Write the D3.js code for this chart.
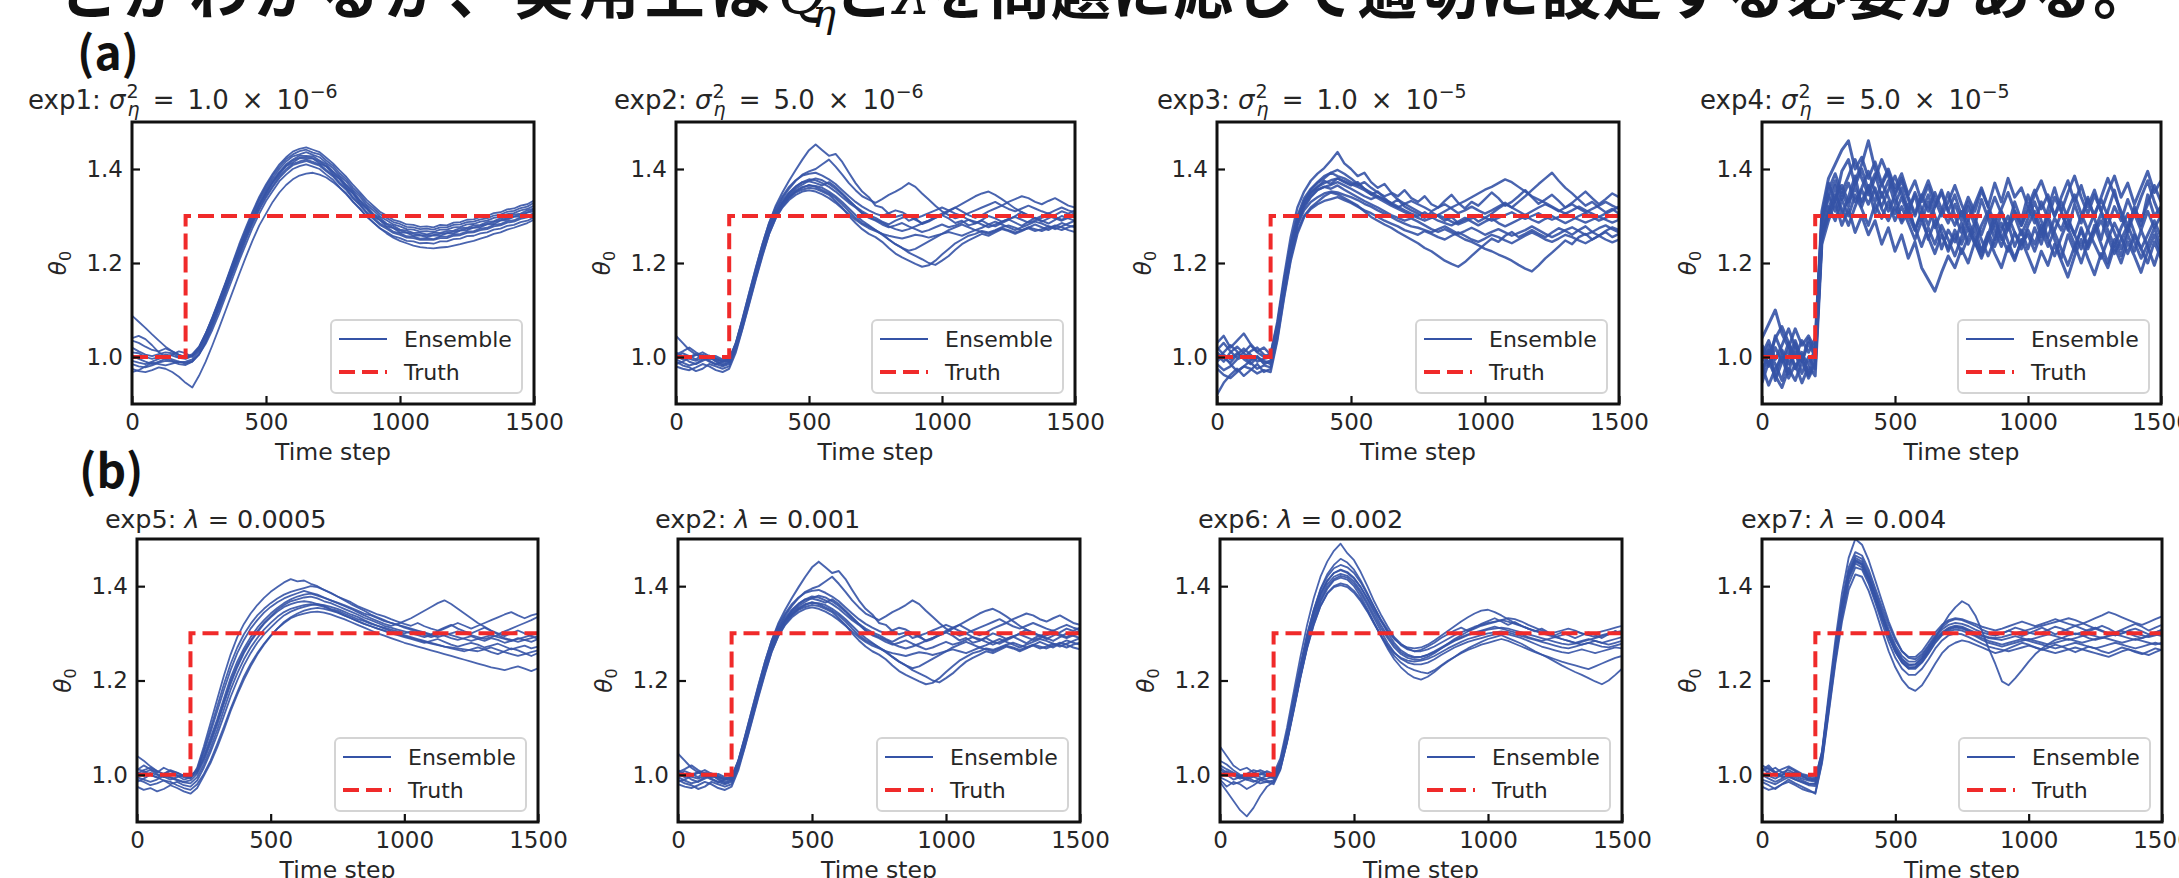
<!DOCTYPE html>
<html><head><meta charset="utf-8">
<script src="https://cdn.jsdelivr.net/npm/d3@7"></script>
<style>
html,body{margin:0;padding:0;background:#fff;overflow:hidden;}
svg{display:block;}
</style></head><body>
<svg id="chart" width="2179" height="878"></svg>
<script>
// ---------------- DATA ----------------
const timeSteps = [0,25,50,75,100,125,150,175,200,225,250,275,300,325,350,375,400,425,450,475,500,525,550,575,600,625,650,675,700,725,750,775,800,825,850,875,900,925,950,975,1000,1025,1050,1075,1100,1125,1150,1175,1200,1225,1250,1275,1300,1325,1350,1375,1400,1425,1450,1475,1500];
const truthT = [0, 200, 200, 1500];
const truthV = [1.0, 1.0, 1.3, 1.3];
const xTicks = [0, 500, 1000, 1500];
const yTicks = [1.0, 1.2, 1.4];
const xDomain = [0, 1500];
const yDomain = [0.9, 1.5];

const topNames = ["exp1", "exp2", "exp3", "exp4"];
const sigmaMantissa = ["1.0", "5.0", "1.0", "5.0"];
const sigmaExponent = ["6", "6", "5", "5"];
const bottomNames = ["exp5", "exp2", "exp6", "exp7"];
const lambdaValues = ["0.0005", "0.001", "0.002", "0.004"];
const legendLabels = ["Ensemble", "Truth"];

// ensemble members: θ0 × 1000 at timeSteps
const exp1Members = [
[1088,1075,1062,1048,1035,1022,1012,1005,1000,1003, 1020,1050,1085,1122,1160,1200,1240,1276,1310,1341, 1367,1390,1410,1425,1437,1443,1446,1441,1436,1424, 1412,1397,1383,1366,1351,1335,1322,1309,1301,1292, 1288,1282,1281,1277,1278,1276,1281,1280,1286,1287, 1292,1293,1298,1300,1306,1308,1314,1316,1322,1325, 1333],
[1035,1030,1022,1015,1012,1018,1012,1004,1000,1006, 1022,1050,1083,1118,1157,1195,1232,1268,1302,1333, 1358,1381,1400,1416,1427,1431,1436,1430,1425,1413, 1402,1386,1373,1355,1341,1324,1312,1299,1291,1282, 1278,1272,1271,1267,1268,1266,1271,1271,1276,1277, 1282,1283,1288,1290,1296,1298,1304,1306,1312,1315, 1322],
[1002,996,990,985,990,996,992,988,990,995, 1012,1040,1074,1110,1147,1186,1221,1259,1290,1323, 1347,1371,1389,1406,1414,1423,1422,1422,1412,1405, 1389,1378,1360,1347,1328,1316,1299,1291,1278,1274, 1265,1264,1258,1259,1255,1259,1258,1263,1263,1269, 1270,1275,1276,1282,1283,1290,1292,1298,1299,1307, 1310],
[985,980,978,982,988,992,990,985,983,990, 1005,1032,1065,1100,1138,1176,1212,1249,1283,1313, 1339,1361,1381,1396,1408,1413,1417,1412,1407,1395, 1384,1368,1355,1337,1323,1306,1294,1281,1273,1264, 1260,1254,1253,1249,1250,1249,1253,1253,1258,1259, 1264,1265,1270,1272,1278,1280,1286,1288,1294,1297, 1303],
[1010,1008,1000,996,1000,1005,1003,998,996,1002, 1018,1046,1079,1115,1152,1190,1227,1263,1297,1327, 1353,1376,1394,1410,1420,1428,1428,1427,1418,1410, 1395,1383,1366,1352,1334,1321,1305,1296,1284,1279, 1271,1269,1264,1264,1261,1264,1264,1268,1269,1274, 1275,1280,1281,1287,1289,1295,1297,1303,1305,1312, 1316],
[968,972,980,988,985,982,986,990,988,992, 1005,1028,1058,1092,1130,1167,1205,1240,1275,1305, 1332,1353,1374,1388,1400,1406,1410,1405,1400,1388, 1377,1361,1348,1330,1316,1299,1287,1274,1266,1257, 1253,1247,1246,1242,1243,1241,1246,1246,1251,1252, 1257,1258,1263,1265,1271,1273,1279,1281,1287,1290, 1297],
[1020,1012,1005,1002,1006,1010,1008,1000,997,1004, 1020,1049,1083,1120,1158,1197,1235,1271,1306,1337, 1363,1386,1405,1421,1431,1438,1441,1435,1431,1418, 1407,1391,1378,1360,1346,1329,1317,1304,1296,1287, 1283,1277,1276,1272,1273,1271,1276,1276,1281,1282, 1287,1288,1293,1295,1301,1303,1309,1311,1317,1320, 1328],
[992,988,985,990,996,1000,995,990,986,990, 1006,1034,1068,1104,1142,1180,1217,1253,1287,1317, 1343,1365,1385,1400,1411,1416,1420,1415,1410,1398, 1387,1371,1358,1340,1326,1309,1297,1284,1276,1267, 1263,1257,1256,1252,1253,1251,1256,1256,1261,1262, 1267,1268,1273,1275,1281,1283,1289,1291,1297,1300, 1306],
[975,970,968,972,978,975,968,958,945,935, 960,990,1025,1062,1100,1138,1176,1213,1248,1280, 1305,1330,1350,1366,1378,1386,1390,1392,1388,1382, 1372,1360,1346,1330,1315,1300,1286,1274,1263,1254, 1247,1242,1237,1234,1232,1231,1233,1234,1237,1240, 1244,1247,1252,1256,1262,1265,1271,1275,1280,1285, 1292],
[1040,1045,1038,1025,1010,1000,1005,1012,1008,1000, 1015,1043,1076,1112,1150,1187,1224,1260,1294,1324, 1350,1372,1392,1407,1418,1424,1426,1423,1416,1406, 1393,1379,1364,1348,1332,1317,1303,1292,1282,1275, 1269,1265,1262,1260,1259,1260,1262,1264,1267,1270, 1273,1276,1279,1283,1287,1291,1295,1299,1303,1308, 1314]
];

const exp2Members = [
[1000,1008,1002,995,1005,1000,992,985,990,1030, 1080,1135,1188,1240,1285,1322,1350,1375,1398,1420, 1440,1452,1440,1428,1432,1415,1392,1370,1352,1340, 1322,1318,1305,1298,1302,1290,1295,1283,1288,1296, 1302,1295,1285,1290,1280,1284,1292,1300,1295,1288, 1293,1286,1279,1288,1296,1290,1284,1292,1300,1295, 1290],
[985,990,998,1004,1010,1002,995,990,995,1028, 1078,1130,1182,1233,1280,1312,1338,1358,1375,1388, 1395,1400,1410,1420,1405,1388,1370,1355,1342,1335, 1328,1336,1345,1352,1360,1370,1362,1348,1335,1322, 1310,1302,1295,1300,1292,1285,1290,1282,1278,1285, 1292,1300,1308,1302,1295,1288,1295,1302,1310,1305, 1312],
[980,975,972,978,985,980,972,968,975,1010, 1060,1112,1165,1215,1262,1296,1320,1338,1350,1356, 1360,1358,1352,1345,1332,1318,1300,1285,1272,1262, 1255,1245,1232,1220,1212,1205,1198,1192,1195,1205, 1218,1230,1242,1250,1258,1262,1268,1265,1270,1276, 1280,1275,1270,1274,1268,1272,1278,1275,1270,1276, 1280],
[1010,1000,990,985,992,998,1002,995,990,1020, 1070,1122,1175,1225,1270,1302,1325,1340,1352,1360, 1366,1362,1355,1348,1338,1325,1310,1296,1285,1278, 1270,1262,1250,1240,1232,1222,1215,1208,1200,1196, 1205,1215,1228,1240,1248,1255,1262,1258,1265,1272, 1268,1262,1268,1275,1282,1276,1270,1278,1285,1280, 1276],
[995,988,982,986,995,1000,990,982,988,1022, 1072,1125,1178,1228,1272,1305,1328,1345,1358,1367, 1375,1380,1376,1368,1358,1346,1332,1320,1310,1302, 1296,1288,1282,1290,1296,1300,1292,1285,1290,1298, 1305,1312,1318,1310,1302,1296,1302,1310,1316,1322, 1330,1336,1342,1338,1330,1325,1332,1338,1330,1322, 1318],
[1005,1012,1020,1010,1002,992,985,980,985,1018, 1068,1120,1172,1222,1268,1303,1328,1348,1362,1372, 1378,1376,1370,1362,1352,1340,1328,1318,1306,1298, 1292,1286,1278,1272,1268,1272,1278,1284,1290,1296, 1302,1310,1318,1326,1334,1342,1348,1352,1345,1336, 1326,1316,1308,1300,1294,1300,1306,1298,1292,1300, 1306],
[990,982,978,970,975,985,980,975,980,1015, 1062,1115,1168,1218,1262,1295,1318,1334,1345,1352, 1355,1352,1346,1338,1328,1316,1304,1292,1282,1274, 1268,1262,1258,1255,1252,1256,1260,1258,1254,1258, 1262,1266,1262,1258,1264,1270,1266,1262,1268,1274, 1270,1265,1270,1276,1272,1268,1274,1280,1276,1270, 1266],
[998,1002,996,992,998,990,984,990,995,1026, 1076,1129,1181,1231,1277,1310,1333,1350,1363,1372, 1374,1370,1365,1372,1362,1348,1334,1320,1306,1296, 1290,1282,1276,1280,1285,1278,1272,1266,1270,1276, 1282,1276,1280,1286,1292,1288,1282,1276,1282,1288, 1294,1298,1292,1286,1290,1296,1300,1295,1290,1296, 1300],
[1002,995,1000,1006,1000,995,998,992,996,1030, 1082,1136,1190,1240,1285,1318,1342,1362,1376,1386, 1390,1392,1386,1378,1368,1355,1342,1330,1320,1312, 1305,1300,1306,1312,1308,1300,1295,1300,1306,1312, 1318,1312,1305,1300,1306,1312,1318,1324,1330,1322, 1315,1310,1316,1322,1316,1310,1305,1312,1318,1312, 1308],
[1045,1030,1015,1005,998,1003,996,990,993,1024, 1073,1126,1178,1228,1272,1304,1326,1342,1354,1362, 1365,1364,1360,1352,1342,1330,1316,1302,1290,1280, 1270,1260,1250,1240,1232,1226,1230,1238,1246,1254, 1262,1270,1276,1282,1276,1270,1275,1282,1288,1282, 1276,1270,1276,1282,1288,1284,1278,1272,1278,1284, 1290]
];

const exp3Members = [
[1030,1045,1020,1035,1050,1028,1012,1020,1005,1075, 1170,1255,1318,1352,1375,1390,1402,1418,1436,1412, 1400,1385,1392,1372,1360,1368,1350,1342,1355,1338, 1330,1342,1325,1318,1332,1345,1328,1316,1330,1322, 1336,1350,1338,1322,1330,1342,1355,1340,1326,1335, 1345,1332,1318,1328,1340,1352,1338,1325,1336,1348, 1340],
[920,945,962,975,960,972,985,968,975,1040, 1130,1210,1268,1300,1318,1330,1342,1350,1346,1338, 1330,1322,1310,1298,1290,1282,1275,1266,1258,1250, 1242,1232,1225,1215,1205,1198,1192,1202,1215,1228, 1240,1252,1245,1258,1266,1255,1262,1270,1262,1255, 1265,1274,1268,1260,1270,1278,1266,1258,1268,1276, 1270],
[1005,990,1010,1022,1008,995,1002,985,990,1055, 1145,1228,1288,1326,1348,1362,1375,1368,1380,1372, 1365,1372,1358,1346,1352,1338,1326,1335,1320,1312, 1305,1296,1308,1300,1290,1298,1285,1292,1300,1288, 1296,1305,1316,1325,1318,1330,1342,1355,1368,1380, 1392,1375,1360,1348,1335,1322,1330,1318,1308,1315, 1305],
[985,972,980,995,1002,988,975,982,978,1045, 1138,1220,1282,1318,1340,1355,1362,1358,1365,1356, 1348,1340,1332,1325,1318,1310,1302,1296,1290,1295, 1288,1280,1272,1266,1272,1265,1258,1250,1245,1238, 1230,1225,1218,1212,1205,1196,1188,1182,1195,1210, 1222,1235,1248,1240,1255,1262,1250,1258,1266,1255, 1262],
[1015,1030,1012,998,1010,1025,1010,1000,1008,1068, 1160,1240,1300,1338,1358,1372,1385,1392,1385,1380, 1372,1365,1372,1360,1350,1342,1348,1335,1326,1332, 1325,1318,1310,1318,1325,1316,1306,1312,1320,1312, 1305,1312,1320,1328,1318,1310,1302,1310,1318,1325, 1318,1310,1318,1325,1316,1308,1315,1322,1330,1322, 1315],
[990,1002,985,970,980,992,1000,992,985,1050, 1140,1222,1280,1312,1330,1340,1348,1352,1350,1345, 1340,1334,1326,1320,1312,1305,1298,1290,1284,1278, 1275,1270,1265,1272,1278,1270,1262,1268,1275,1268, 1260,1266,1272,1265,1258,1264,1270,1278,1270,1262, 1255,1262,1270,1276,1268,1260,1266,1274,1280,1272, 1265],
[1010,998,988,1005,1018,1005,990,996,1000,1062, 1155,1235,1294,1332,1355,1370,1380,1392,1398,1390, 1380,1368,1358,1350,1342,1335,1328,1320,1312,1305, 1300,1308,1298,1290,1285,1280,1288,1296,1288,1280, 1288,1295,1285,1278,1285,1292,1300,1292,1286,1294, 1300,1292,1285,1292,1300,1306,1298,1290,1296,1302, 1296],
[995,1010,1025,1012,995,985,998,988,992,1058, 1148,1228,1288,1322,1342,1356,1362,1366,1372,1365, 1358,1350,1342,1336,1342,1334,1325,1318,1326,1318, 1310,1302,1296,1302,1310,1318,1325,1332,1340,1348, 1356,1362,1370,1378,1372,1362,1352,1342,1335,1328, 1320,1312,1305,1312,1320,1312,1305,1298,1305,1312, 1320],
[975,962,955,968,980,975,965,972,968,1035, 1125,1205,1262,1298,1315,1325,1332,1336,1340,1334, 1328,1320,1312,1306,1298,1290,1284,1278,1270,1265, 1260,1268,1262,1255,1250,1258,1265,1258,1250,1245, 1252,1260,1255,1248,1242,1250,1258,1265,1258,1250, 1245,1252,1260,1255,1248,1242,1250,1258,1250,1244, 1250],
[1020,1005,995,1008,998,1012,1020,1005,998,1065, 1158,1238,1296,1330,1350,1362,1370,1376,1380,1374, 1368,1362,1355,1346,1338,1330,1322,1315,1308,1302, 1296,1290,1296,1302,1296,1288,1282,1288,1295,1302, 1296,1290,1296,1302,1308,1300,1294,1300,1306,1298, 1292,1298,1305,1298,1292,1286,1292,1298,1292,1286, 1292]
];

const exp4Members = [
[1020,980,1045,1010,965,1030,990,1040,1005,1300, 1370,1330,1395,1420,1365,1400,1355,1390,1340,1375, 1325,1360,1310,1345,1290,1330,1275,1310,1350,1300, 1265,1320,1280,1335,1295,1250,1310,1275,1330,1290, 1345,1300,1255,1315,1360,1310,1270,1325,1285,1340, 1295,1250,1310,1355,1300,1265,1320,1280,1345,1300, 1320],
[960,1015,950,990,1030,975,1010,960,990,1250, 1310,1365,1300,1340,1385,1320,1360,1305,1350,1310, 1345,1290,1325,1270,1305,1250,1290,1230,1270,1245, 1285,1240,1275,1225,1260,1300,1250,1285,1235,1270, 1230,1275,1240,1290,1250,1210,1260,1225,1275,1235, 1280,1240,1200,1250,1215,1260,1225,1270,1235,1195, 1240],
[1040,1070,1100,1050,1020,1060,1025,1045,1015,1310, 1380,1410,1440,1460,1400,1425,1380,1415,1370,1400, 1360,1390,1345,1375,1330,1365,1320,1355,1310,1345, 1300,1340,1310,1355,1320,1370,1330,1380,1340,1360, 1320,1355,1315,1345,1300,1340,1375,1330,1365,1320, 1355,1310,1350,1385,1340,1370,1325,1360,1395,1350, 1375],
[980,940,975,1000,955,985,945,980,960,1240, 1290,1330,1280,1315,1265,1300,1260,1290,1240,1275, 1225,1260,1210,1245,1190,1165,1140,1180,1215,1190, 1230,1200,1245,1215,1255,1220,1190,1235,1205,1250, 1215,1180,1225,1195,1240,1205,1170,1215,1250,1210, 1175,1220,1190,1235,1200,1245,1215,1180,1225,1260, 1220],
[1005,1035,995,1025,1060,1020,990,1030,1000,1290, 1345,1310,1350,1320,1375,1410,1460,1400,1365,1395, 1350,1380,1340,1305,1345,1310,1350,1315,1285,1325, 1290,1330,1295,1260,1300,1340,1305,1270,1310,1280, 1320,1285,1330,1295,1340,1310,1350,1385,1340,1305, 1345,1310,1280,1320,1290,1335,1300,1340,1375,1330, 1295],
[945,990,960,935,975,950,990,955,985,1260, 1320,1290,1335,1300,1345,1315,1280,1325,1295,1330, 1290,1320,1285,1250,1290,1255,1220,1260,1230,1270, 1240,1275,1245,1210,1250,1285,1255,1225,1265,1230, 1270,1240,1280,1250,1215,1255,1290,1260,1230,1270, 1240,1210,1250,1285,1255,1220,1260,1230,1200,1245, 1210],
[1025,1000,1040,1065,1030,1000,1035,1010,1040,1285, 1355,1390,1350,1385,1420,1380,1345,1380,1420,1385, 1345,1375,1335,1300,1340,1375,1335,1300,1330,1365, 1325,1290,1325,1360,1320,1285,1315,1350,1310,1280, 1310,1345,1375,1335,1300,1330,1295,1260,1300,1335, 1300,1340,1380,1345,1310,1280,1315,1290,1325,1365, 1330],
[970,1010,985,950,1000,1035,995,965,1010,1265, 1305,1345,1315,1280,1320,1355,1325,1360,1315,1290, 1320,1285,1310,1275,1235,1275,1240,1280,1250,1215, 1255,1290,1255,1225,1265,1235,1270,1300,1265,1240, 1280,1310,1270,1235,1270,1305,1275,1240,1200,1245, 1270,1305,1270,1235,1275,1305,1265,1230,1260,1290, 1255],
[1010,985,1020,990,1015,975,1005,985,1015,1275, 1340,1375,1335,1370,1330,1360,1395,1350,1320,1355, 1385,1345,1310,1350,1315,1280,1320,1350,1310,1280, 1310,1275,1240,1280,1310,1270,1235,1275,1300,1260, 1295,1330,1290,1255,1295,1270,1310,1345,1305,1270, 1305,1335,1300,1265,1230,1270,1305,1270,1310,1275, 1300],
[990,1025,955,1015,985,1010,965,1000,975,1255, 1300,1335,1365,1330,1360,1330,1365,1330,1370,1340, 1305,1340,1300,1270,1310,1345,1300,1265,1225,1260, 1220,1255,1285,1250,1215,1250,1285,1245,1210,1245, 1260,1225,1265,1300,1265,1230,1195,1235,1270,1230, 1265,1290,1255,1220,1250,1280,1245,1210,1240,1275, 1235]
];

const exp5Members = [
[1010,1020,1012,1005,1015,1008,1000,995,992,1015, 1060,1110,1160,1210,1255,1292,1320,1342,1360,1375, 1388,1398,1408,1415,1410,1412,1405,1400,1392,1385, 1378,1372,1366,1358,1352,1346,1340,1336,1330,1325, 1320,1316,1322,1315,1310,1306,1312,1318,1310,1304, 1300,1306,1312,1305,1298,1304,1310,1316,1322,1328, 1335],
[990,985,978,982,988,985,978,972,968,980, 1002,1030,1065,1102,1140,1175,1208,1235,1258,1278, 1295,1310,1322,1332,1338,1342,1345,1346,1344,1340, 1335,1330,1324,1318,1312,1306,1300,1295,1290,1285, 1280,1276,1272,1268,1264,1260,1256,1252,1248,1244, 1240,1236,1232,1228,1225,1222,1226,1230,1225,1220, 1226],
[1005,998,1004,1000,995,1002,998,990,994,1005, 1035,1072,1112,1155,1198,1232,1262,1285,1305,1322, 1336,1350,1360,1368,1372,1376,1378,1374,1368,1364, 1358,1352,1346,1340,1333,1328,1322,1316,1312,1308, 1304,1300,1296,1292,1296,1300,1295,1290,1286,1290, 1294,1288,1284,1290,1286,1280,1284,1290,1286,1282, 1288],
[998,1005,1010,1002,996,990,995,1000,996,1010, 1048,1090,1135,1180,1222,1258,1286,1310,1328,1344, 1356,1366,1374,1380,1385,1390,1386,1382,1376,1370, 1364,1358,1352,1345,1338,1332,1326,1320,1316,1320, 1326,1332,1340,1348,1356,1364,1370,1362,1352,1342, 1332,1322,1314,1306,1300,1294,1300,1306,1300,1294, 1288],
[985,992,1000,995,988,980,985,978,975,988, 1015,1048,1085,1125,1165,1200,1232,1258,1280,1298, 1312,1326,1338,1346,1352,1356,1360,1362,1360,1356, 1352,1346,1340,1335,1328,1322,1316,1310,1305,1300, 1296,1292,1288,1284,1280,1276,1272,1268,1265,1262, 1266,1270,1266,1260,1256,1262,1268,1264,1258,1252, 1258],
[1040,1030,1018,1008,1002,1010,1005,998,1000,1008, 1040,1078,1118,1162,1205,1240,1268,1292,1312,1328, 1342,1354,1364,1372,1378,1382,1384,1380,1375,1370, 1365,1360,1354,1348,1342,1338,1332,1326,1322,1318, 1314,1310,1306,1302,1298,1304,1310,1316,1322,1316, 1310,1316,1322,1328,1334,1340,1345,1338,1332,1338, 1342],
[975,968,972,965,970,978,972,965,960,972, 998,1025,1058,1095,1135,1170,1202,1230,1255,1276, 1294,1310,1324,1334,1342,1348,1352,1354,1352,1348, 1344,1338,1332,1326,1320,1315,1310,1306,1302,1298, 1294,1290,1286,1282,1278,1275,1272,1270,1268,1266, 1264,1262,1266,1270,1265,1260,1256,1252,1256,1260, 1264],
[1012,1008,1000,994,1002,1008,1004,998,994,1012, 1052,1098,1145,1192,1235,1270,1298,1320,1338,1352, 1364,1374,1382,1388,1392,1396,1400,1398,1392,1386, 1378,1370,1362,1355,1348,1340,1334,1328,1322,1318, 1312,1308,1304,1300,1296,1292,1296,1300,1304,1300, 1296,1292,1288,1292,1296,1290,1286,1282,1286,1290, 1294],
[995,990,985,990,998,994,988,984,982,995, 1022,1056,1095,1138,1180,1215,1245,1270,1290,1308, 1322,1335,1345,1352,1356,1360,1362,1360,1356,1350, 1345,1338,1332,1326,1320,1315,1310,1305,1300,1296, 1292,1288,1284,1280,1284,1288,1282,1276,1272,1276, 1280,1276,1270,1274,1278,1272,1266,1270,1274,1268, 1272],
[1002,1010,1015,1008,1000,995,990,985,988,1002, 1030,1066,1106,1150,1192,1228,1258,1282,1302,1320, 1334,1346,1356,1362,1366,1368,1366,1362,1358,1352, 1348,1342,1336,1330,1326,1320,1316,1312,1308,1304, 1300,1304,1300,1296,1292,1296,1300,1296,1292,1288, 1284,1288,1292,1296,1292,1288,1284,1288,1292,1296, 1300]
];

const exp6Members = [
[1060,1040,1020,1010,1015,1005,1000,1008,1002,1035, 1100,1175,1250,1318,1375,1420,1452,1475,1490,1470, 1455,1430,1400,1368,1340,1315,1292,1278,1268,1262, 1265,1272,1280,1290,1298,1306,1312,1305,1312,1320, 1326,1332,1325,1318,1324,1316,1310,1304,1310,1302, 1296,1302,1296,1290,1296,1302,1296,1290,1298,1305, 1300],
[985,965,945,925,912,930,955,975,985,1012, 1068,1135,1205,1268,1318,1358,1385,1400,1406,1402, 1390,1372,1348,1322,1296,1272,1252,1238,1228,1222, 1218,1215,1222,1232,1242,1250,1258,1265,1270,1276, 1280,1284,1288,1284,1278,1272,1266,1260,1255,1250, 1245,1240,1236,1232,1228,1224,1230,1236,1242,1248, 1252],
[1005,998,1002,995,990,996,1002,998,992,1022, 1082,1152,1222,1288,1340,1382,1410,1428,1435,1430, 1418,1398,1372,1345,1318,1295,1275,1260,1252,1248, 1250,1255,1262,1270,1278,1285,1292,1298,1302,1306, 1310,1314,1310,1306,1302,1298,1292,1288,1284,1288, 1292,1288,1284,1280,1284,1288,1284,1280,1284,1288, 1292],
[990,975,985,980,970,978,988,985,980,1010, 1070,1138,1208,1272,1325,1366,1394,1412,1418,1414, 1400,1378,1352,1322,1294,1268,1245,1228,1215,1206, 1202,1208,1218,1230,1240,1250,1260,1268,1275,1282, 1288,1292,1296,1290,1284,1278,1270,1262,1255,1248, 1240,1232,1225,1218,1212,1205,1198,1192,1200,1212, 1225],
[1020,1012,1005,998,1002,1010,1006,1000,996,1025, 1088,1158,1228,1292,1345,1385,1412,1428,1434,1428, 1416,1398,1375,1350,1326,1305,1288,1276,1270,1268, 1270,1276,1285,1295,1305,1315,1325,1334,1342,1348, 1350,1345,1338,1330,1322,1316,1310,1306,1302,1298, 1302,1306,1310,1306,1300,1296,1300,1304,1308,1312, 1316],
[995,988,980,985,992,1000,995,988,984,1015, 1072,1142,1212,1276,1328,1370,1398,1415,1422,1418, 1405,1385,1360,1332,1305,1280,1260,1246,1238,1234, 1234,1238,1245,1254,1262,1270,1276,1282,1286,1290, 1294,1298,1300,1298,1294,1290,1284,1278,1272,1268, 1264,1260,1258,1262,1266,1262,1258,1262,1266,1270, 1268],
[1015,1005,998,992,996,1004,1010,1004,998,1028, 1090,1162,1232,1298,1350,1392,1420,1438,1445,1440, 1428,1408,1382,1356,1330,1308,1290,1275,1266,1262, 1262,1266,1272,1280,1288,1296,1302,1308,1314,1318, 1322,1325,1328,1325,1320,1315,1310,1305,1300,1296, 1292,1296,1300,1304,1300,1296,1292,1296,1300,1304, 1300],
[1000,1008,1002,996,990,985,992,998,994,1020, 1078,1148,1218,1282,1335,1376,1404,1420,1426,1422, 1410,1390,1365,1338,1312,1290,1270,1256,1248,1244, 1245,1250,1258,1268,1278,1288,1296,1304,1310,1316, 1320,1324,1328,1332,1330,1325,1318,1312,1306,1300, 1294,1288,1284,1280,1276,1280,1284,1280,1276,1280, 1284],
[1030,1022,1010,1000,995,988,982,985,988,1016, 1072,1140,1208,1270,1320,1358,1384,1398,1402,1398, 1386,1368,1346,1320,1296,1275,1258,1248,1242,1240, 1242,1246,1252,1260,1268,1275,1282,1288,1292,1296, 1300,1302,1304,1302,1298,1294,1290,1286,1282,1278, 1274,1270,1268,1272,1276,1280,1276,1272,1270,1274, 1278],
[1012,1000,990,995,1000,996,990,992,996,1024, 1086,1158,1230,1296,1350,1394,1425,1445,1458,1450, 1435,1412,1385,1356,1328,1302,1280,1264,1255,1250, 1250,1254,1260,1268,1276,1284,1290,1296,1300,1304, 1308,1310,1312,1310,1306,1302,1298,1294,1290,1286, 1282,1278,1276,1278,1282,1286,1290,1294,1298,1302, 1305]
];

const exp7Members = [
[1010,1020,1005,998,1015,1008,1000,995,990,1050, 1170,1285,1385,1460,1500,1488,1455,1412,1368,1325, 1290,1262,1248,1245,1256,1275,1296,1312,1325,1330, 1328,1322,1316,1308,1302,1296,1300,1306,1300,1294, 1300,1306,1312,1305,1298,1304,1310,1316,1310,1304, 1310,1316,1310,1302,1308,1314,1320,1314,1306,1312, 1318],
[985,978,970,980,990,982,975,968,960,1025, 1130,1235,1325,1392,1425,1420,1390,1350,1305,1262, 1228,1202,1185,1178,1190,1212,1236,1258,1272,1280, 1285,1282,1276,1270,1264,1258,1262,1268,1274,1280, 1276,1270,1265,1270,1276,1272,1266,1260,1266,1272, 1268,1262,1258,1264,1270,1266,1260,1256,1262,1268, 1264],
[1002,998,992,1000,1005,998,992,988,986,1040, 1152,1262,1358,1428,1460,1452,1422,1382,1342,1302, 1270,1246,1234,1234,1246,1266,1286,1300,1310,1314, 1312,1306,1300,1294,1290,1288,1286,1290,1294,1290, 1286,1290,1294,1298,1294,1290,1286,1290,1294,1298, 1294,1290,1294,1298,1294,1290,1286,1290,1294,1298, 1294],
[995,1008,1015,1005,998,990,985,980,982,1035, 1142,1250,1345,1415,1448,1440,1410,1370,1330,1292, 1260,1238,1226,1228,1242,1264,1290,1315,1338,1355, 1368,1360,1338,1305,1268,1235,1198,1190,1205,1222, 1240,1256,1268,1278,1286,1290,1296,1300,1296,1290, 1286,1290,1296,1300,1305,1300,1294,1290,1296,1302, 1306],
[1020,1012,1005,1012,1018,1010,1002,998,994,1048, 1160,1272,1368,1440,1472,1465,1435,1395,1356,1318, 1285,1262,1250,1250,1262,1282,1302,1318,1328,1332, 1330,1325,1320,1314,1310,1306,1310,1315,1320,1325, 1320,1315,1320,1325,1330,1325,1320,1316,1320,1326, 1332,1338,1345,1340,1334,1328,1322,1318,1324,1330, 1336],
[975,968,972,980,985,978,970,965,962,1028, 1135,1242,1335,1405,1440,1435,1405,1365,1322,1282, 1248,1225,1212,1212,1225,1245,1268,1285,1296,1300, 1298,1292,1285,1278,1272,1268,1265,1262,1266,1270, 1274,1270,1266,1262,1258,1262,1266,1270,1266,1262, 1258,1254,1250,1256,1262,1266,1262,1258,1254,1260, 1266],
[1008,1015,1002,995,1000,1006,998,990,988,1045, 1158,1268,1362,1432,1465,1458,1428,1388,1348,1308, 1275,1252,1240,1240,1252,1272,1292,1308,1318,1322, 1320,1315,1308,1302,1298,1295,1300,1306,1312,1308, 1302,1298,1302,1308,1314,1310,1304,1298,1302,1308, 1312,1306,1300,1296,1300,1306,1310,1304,1298,1302, 1308],
[990,985,980,988,995,990,984,978,976,1036, 1145,1255,1350,1420,1452,1445,1415,1375,1335,1295, 1262,1238,1225,1225,1238,1258,1280,1296,1305,1308, 1306,1300,1294,1286,1280,1276,1272,1276,1280,1284, 1288,1284,1280,1276,1280,1284,1288,1284,1280,1284, 1288,1292,1288,1284,1280,1284,1288,1284,1280,1276, 1280],
[1012,1005,998,1005,1010,1002,996,992,990,1042, 1152,1262,1356,1425,1456,1448,1418,1378,1338,1298, 1266,1244,1232,1234,1248,1268,1288,1302,1312,1316, 1314,1308,1302,1296,1292,1290,1292,1296,1300,1304, 1308,1312,1316,1320,1324,1328,1332,1328,1322,1316, 1310,1304,1300,1296,1300,1304,1300,1296,1292,1296, 1300],
[1000,992,985,992,1000,994,988,982,980,1038, 1148,1258,1352,1422,1454,1446,1416,1376,1336,1296, 1264,1240,1228,1228,1240,1260,1282,1298,1308,1312, 1310,1304,1296,1290,1284,1280,1276,1280,1284,1288, 1284,1280,1276,1272,1268,1272,1276,1280,1276,1272, 1268,1272,1276,1280,1276,1272,1268,1272,1276,1280, 1276]
];

const topData = [exp1Members, exp2Members, exp3Members, exp4Members];
const bottomData = [exp5Members, exp2Members, exp6Members, exp7Members];

// ---------------- LAYOUT / STYLE ----------------
const topFrames = [[132,534],[676,1075],[1217,1619],[1762,2161]];
const bottomFrames = [[137,538],[678,1080],[1220,1622],[1762,2162]];
const rowY = [[122,404],[539,822]];
const topTitleX = [28, 614, 1157, 1700];
const bottomTitleX = [105, 655, 1198, 1741];
const titleBaseline = [109, 528];
const topLineWidth = [1.8, 2.0, 2.4, 3.0];
const bottomLineWidth = [1.8, 2.0, 1.8, 1.9];

const FONT = "'DejaVu Sans', 'Bitstream Vera Sans', sans-serif";
const TXT = "#262626";
const BLUE = "#3553a6";
const RED = "#f02a2a";
const EN = "\u2002";

const svg = d3.select("#chart");
svg.append("rect").attr("width", 2179).attr("height", 878).attr("fill", "#fff");
let clipN = 0;

function drawPanel(fx, fy, members, lineW) {
  const [x0, x1] = fx, [y0, y1] = fy;
  const x = d3.scaleLinear().domain(xDomain).range([x0, x1]);
  const y = d3.scaleLinear().domain(yDomain).range([y1, y0]);
  const id = "clip" + (clipN++);
  svg.append("clipPath").attr("id", id).append("rect")
    .attr("x", x0).attr("y", y0).attr("width", x1 - x0).attr("height", y1 - y0);
  const g = svg.append("g");
  const plot = g.append("g").attr("clip-path", `url(#${id})`);
  const line = d3.line().x((d, i) => x(timeSteps[i])).y(d => y(d / 1000));
  plot.selectAll("path.ens").data(members).join("path")
    .attr("class", "ens").attr("d", line)
    .attr("fill", "none").attr("stroke", BLUE).attr("stroke-width", lineW)
    .attr("stroke-linejoin", "round").attr("opacity", 0.9);
  const tline = d3.line().x(d => x(d[0])).y(d => y(d[1]));
  plot.append("path").datum(d3.zip(truthT, truthV)).attr("d", tline)
    .attr("fill", "none").attr("stroke", RED).attr("stroke-width", 4)
    .attr("stroke-dasharray", "16,7");

  // axes (inward ticks)
  const ax = g.append("g").attr("transform", `translate(0,${y1})`)
    .call(d3.axisBottom(x).tickValues(xTicks).tickFormat(d3.format("d")).tickSizeInner(-8).tickSizeOuter(0).tickPadding(10));
  const ay = g.append("g").attr("transform", `translate(${x0},0)`)
    .call(d3.axisLeft(y).tickValues(yTicks).tickFormat(d3.format(".1f")).tickSizeInner(-8).tickSizeOuter(0).tickPadding(9));
  [ax, ay].forEach(a => {
    a.select(".domain").remove();
    a.selectAll("line").attr("stroke", "#111").attr("stroke-width", 2.2);
    a.selectAll("text").attr("font-family", FONT).attr("font-size", 23).attr("fill", TXT);
  });

  // frame
  g.append("rect").attr("x", x0).attr("y", y0).attr("width", x1 - x0).attr("height", y1 - y0)
    .attr("fill", "none").attr("stroke", "#111").attr("stroke-width", 3);

  // axis labels
  g.append("text").attr("x", (x0 + x1) / 2).attr("y", y1 + 56)
    .attr("text-anchor", "middle").attr("font-family", FONT).attr("font-size", 23.5).attr("fill", TXT)
    .text("Time step");
  const yl = g.append("text").attr("transform", `translate(${x0 - 66},${(y0 + y1) / 2}) rotate(-90)`)
    .attr("text-anchor", "middle").attr("font-family", FONT).attr("font-size", 23).attr("fill", TXT);
  yl.append("tspan").attr("font-style", "italic").text("θ");
  yl.append("tspan").attr("font-size", 16).attr("dy", 5).text("0");

  // legend
  const lw = 191, lh = 73;
  const lx = x1 - 12 - lw, ly = y1 - 11 - lh;
  const lg = g.append("g");
  lg.append("rect").attr("x", lx).attr("y", ly).attr("width", lw).attr("height", lh).attr("rx", 5)
    .attr("fill", "#fff").attr("fill-opacity", 0.85).attr("stroke", "#d4d4d4").attr("stroke-width", 2);
  lg.append("line").attr("x1", lx + 8).attr("x2", lx + 56).attr("y1", ly + 19).attr("y2", ly + 19)
    .attr("stroke", BLUE).attr("stroke-width", 2);
  lg.append("line").attr("x1", lx + 8).attr("x2", lx + 56).attr("y1", ly + 52).attr("y2", ly + 52)
    .attr("stroke", RED).attr("stroke-width", 4).attr("stroke-dasharray", "16,7");
  legendLabels.forEach((lab, k) => {
    lg.append("text").attr("x", lx + 73).attr("y", ly + (k === 0 ? 19 : 52) + 8)
      .attr("font-family", FONT).attr("font-size", 22).attr("fill", TXT).text(lab);
  });
  return g;
}

// top row
topFrames.forEach((fx, c) => {
  drawPanel(fx, rowY[0], topData[c], topLineWidth[c]);
  const t = svg.append("text").attr("x", topTitleX[c]).attr("y", titleBaseline[0])
    .attr("font-family", FONT).attr("font-size", 26).attr("fill", TXT);
  t.append("tspan").text(topNames[c] + ": ");
  t.append("tspan").attr("font-style", "italic").text("σ");
  t.append("tspan").attr("font-size", 19).attr("dx", 1).attr("dy", -11).text("2");
  t.append("tspan").attr("font-size", 19).attr("font-style", "italic").attr("dx", -11).attr("dy", 18).text("η");
  t.append("tspan").attr("dy", -7).text(EN + "=" + EN + sigmaMantissa[c] + EN + "×" + EN + "10");
  t.append("tspan").attr("font-size", 19).attr("dy", -11).text("−" + sigmaExponent[c]);
});

// bottom row
bottomFrames.forEach((fx, c) => {
  drawPanel(fx, rowY[1], bottomData[c], bottomLineWidth[c]);
  const t = svg.append("text").attr("x", bottomTitleX[c]).attr("y", titleBaseline[1])
    .attr("font-family", FONT).attr("font-size", 25.5).attr("fill", TXT);
  t.append("tspan").text(bottomNames[c] + ": ");
  t.append("tspan").attr("font-style", "italic").text("λ");
  t.append("tspan").text(" = " + lambdaValues[c]);
});

// panel labels
const JP = "'Noto Sans CJK JP', 'Noto Sans', sans-serif";
svg.append("text").attr("x", 77).attr("y", 70).attr("font-family", JP).attr("font-weight", 700)
  .attr("font-size", 46).attr("fill", "#111").text("(a)");
svg.append("text").attr("x", 79).attr("y", 488).attr("font-family", JP).attr("font-weight", 700)
  .attr("font-size", 46).attr("fill", "#111").text("(b)");

// cropped running text at the top
const hdr = svg.append("g").attr("fill", "#111");
const HB = 14;
hdr.append("text").attr("x", 58).attr("y", HB).attr("font-family", JP).attr("font-weight", 700)
  .attr("font-size", 60).attr("textLength", 712).attr("lengthAdjust", "spacing").text("とがわかるが、実用上は");
hdr.append("text").attr("x", 778).attr("y", HB).attr("font-family", "'DejaVu Serif', serif")
  .attr("font-style", "italic").attr("font-size", 60).text("Q");
hdr.append("text").attr("x", 812).attr("y", HB + 13).attr("font-family", "'DejaVu Serif', serif")
  .attr("font-style", "italic").attr("font-size", 40).text("η");
hdr.append("text").attr("x", 833).attr("y", HB).attr("font-family", JP).attr("font-weight", 700)
  .attr("font-size", 60).text("と");
hdr.append("text").attr("x", 893).attr("y", HB).attr("font-family", "'DejaVu Serif', serif")
  .attr("font-style", "italic").attr("font-size", 60).text("λ");
hdr.append("text").attr("x", 928).attr("y", HB).attr("font-family", JP).attr("font-weight", 700)
  .attr("font-size", 60).attr("textLength", 1225).attr("lengthAdjust", "spacing").text("を問題に応じて適切に設定する必要がある。");
</script>
</body></html>
